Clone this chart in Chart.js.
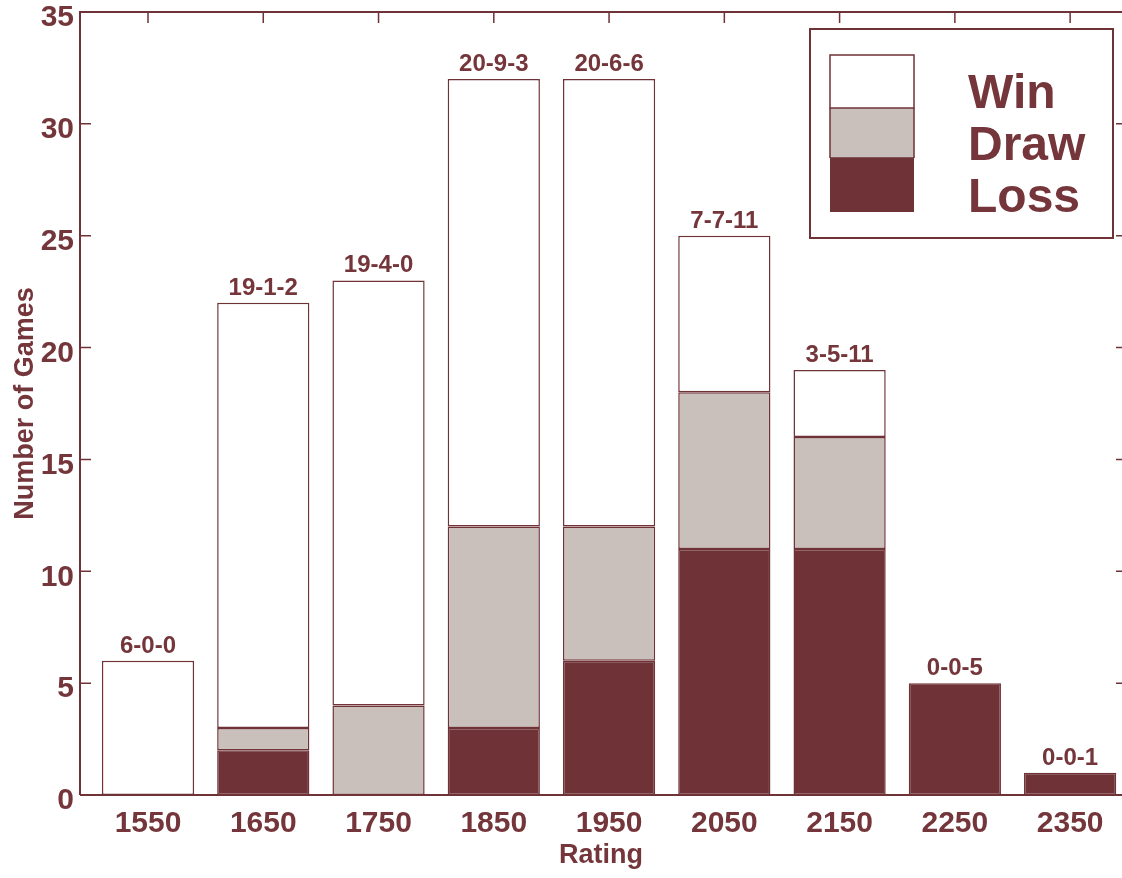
<!DOCTYPE html>
<html>
<head>
<meta charset="utf-8">
<script src="https://cdn.jsdelivr.net/npm/chart.js@4.4.1/dist/chart.umd.min.js"></script>
<style>
    html, body { margin: 0; padding: 0; background: #fff; }
    #wrap { width: 1122px; height: 878px; }
</style>
</head>
<body>
<div id="wrap"><canvas id="myChart"></canvas></div>
<script>
// data
const ratings = [1550, 1650, 1750, 1850, 1950, 2050, 2150, 2250, 2350];
const wins   = [6, 19, 19, 20, 20, 7, 3, 0, 0];
const draws  = [0, 1, 4, 9, 6, 7, 5, 0, 0];
const losses = [0, 2, 0, 3, 6, 11, 11, 5, 1];
const yTicks = [0, 5, 10, 15, 20, 25, 30, 35];

const maroon = '#6f3236';
const textColor = '#74363a';
const drawGray = '#c9c0bb';
const fontFamily = '"Liberation Sans", Arial, sans-serif';

const pts = arr => arr.map((v, i) => ({ x: ratings[i], y: v }));

// frame, inward ticks, W-D-L labels and the legend box
const decorations = {
    id: 'decorations',
    afterDatasetsDraw(chart) {
        const ctx = chart.ctx;
        const area = chart.chartArea;
        const xs = chart.scales.x;
        const ys = chart.scales.y;
        ctx.save();
        ctx.strokeStyle = maroon;
        ctx.lineWidth = 2;
        ctx.beginPath();
        ctx.moveTo(area.left, area.bottom);
        ctx.lineTo(area.left, area.top);
        ctx.lineTo(area.right, area.top);
        ctx.stroke();

        ctx.lineWidth = 1.5;
        ctx.beginPath();
        yTicks.forEach(t => {
            const y = ys.getPixelForValue(t);
            ctx.moveTo(area.left, y); ctx.lineTo(area.left + 11, y);
            ctx.moveTo(area.right, y); ctx.lineTo(area.right - 6, y);
        });
        ratings.forEach(r => {
            const x = xs.getPixelForValue(r);
            ctx.moveTo(x, area.top); ctx.lineTo(x, area.top + 11);
        });
        ctx.stroke();

        // labels above each bar
        ctx.fillStyle = textColor;
        ctx.font = 'bold 24px ' + fontFamily;
        ctx.textAlign = 'center';
        ctx.textBaseline = 'alphabetic';
        ratings.forEach((r, i) => {
            const total = wins[i] + draws[i] + losses[i];
            const x = xs.getPixelForValue(r);
            const y = ys.getPixelForValue(total);
            ctx.fillText(wins[i] + '-' + draws[i] + '-' + losses[i], x, y - 8);
        });

        // legend
        const ds = chart.data.datasets;
        ctx.lineWidth = 2;
        ctx.strokeStyle = maroon;
        ctx.strokeRect(810, 29, 303, 209);
        const sw = [[ds[2], 55, 53], [ds[1], 108, 50], [ds[0], 158, 54]];
        sw.forEach(([d, top, h]) => {
            ctx.fillStyle = d.backgroundColor;
            ctx.fillRect(830, top, 84, h);
        });
        ctx.lineWidth = 1.5;
        ctx.strokeRect(830, 55, 84, 53);
        ctx.beginPath();
        ctx.moveTo(830, 158); ctx.lineTo(914, 158);
        ctx.moveTo(830, 108); ctx.lineTo(830, 158);
        ctx.moveTo(914, 108); ctx.lineTo(914, 158);
        ctx.stroke();
        ctx.fillStyle = textColor;
        ctx.font = 'bold 48px ' + fontFamily;
        ctx.textAlign = 'left';
        ctx.fillText(ds[2].label, 968, 108);
        ctx.fillText(ds[1].label, 968, 160);
        ctx.fillText(ds[0].label, 968, 212);

        ctx.lineWidth = 2;
        ctx.strokeStyle = maroon;
        ctx.beginPath();
        ctx.moveTo(area.left, area.bottom);
        ctx.lineTo(area.right, area.bottom);
        ctx.stroke();
        ctx.restore();
    }
};

const ctx = document.getElementById('myChart').getContext('2d');

const myChart = new Chart(ctx, {
    type: 'bar',
    data: {
        datasets: [{
            label: 'Loss',
            data: pts(losses),
            backgroundColor: maroon,
            borderColor: maroon
        }, {
            label: 'Draw',
            data: pts(draws),
            backgroundColor: drawGray,
            borderColor: maroon
        }, {
            label: 'Win',
            data: pts(wins),
            backgroundColor: '#ffffff',
            borderColor: maroon
        }]
    },
    plugins: [decorations],
    options: {
        responsive: true,
        maintainAspectRatio: false,
        animation: false,
        layout: { padding: { top: 12, right: 0, left: 0, bottom: 0 } },
        datasets: {
            bar: {
                barPercentage: 0.8,
                categoryPercentage: 1,
                borderWidth: 1.5,
                borderSkipped: false
            }
        },
        scales: {
            x: {
                type: 'linear',
                min: 1491,
                max: 2395,
                offset: false,
                stacked: true,
                grid: { display: false, drawTicks: false },
                border: { display: false },
                afterBuildTicks: s => { s.ticks = ratings.map(v => ({ value: v })); },
                afterFit: s => { s.height = 83; s.paddingLeft = 0; s.paddingRight = 0; },
                ticks: {
                    autoSkip: false,
                    maxRotation: 0,
                    padding: 11,
                    color: textColor,
                    font: { family: fontFamily, size: 30, weight: 'bold' },
                    callback: v => String(v)
                },
                title: {
                    display: true,
                    text: 'Rating',
                    color: textColor,
                    padding: { top: 0, bottom: 6 },
                    font: { family: fontFamily, size: 27, weight: 'bold' }
                }
            },
            y: {
                min: 0,
                max: 35,
                stacked: true,
                grid: { display: false, drawTicks: false },
                border: { display: false },
                afterBuildTicks: s => { s.ticks = yTicks.map(v => ({ value: v })); },
                afterFit: s => { s.width = 80; s.paddingTop = 0; s.paddingBottom = 0; },
                ticks: {
                    padding: 6,
                    labelOffset: 6,
                    color: textColor,
                    font: { family: fontFamily, size: 30, weight: 'bold' }
                },
                title: {
                    display: true,
                    text: 'Number of Games',
                    color: textColor,
                    padding: { top: 9, bottom: 0 },
                    font: { family: fontFamily, size: 27, weight: 'bold' }
                }
            }
        },
        plugins: {
            legend: { display: false },
            tooltip: { enabled: false }
        }
    }
});
</script>
</body>
</html>
